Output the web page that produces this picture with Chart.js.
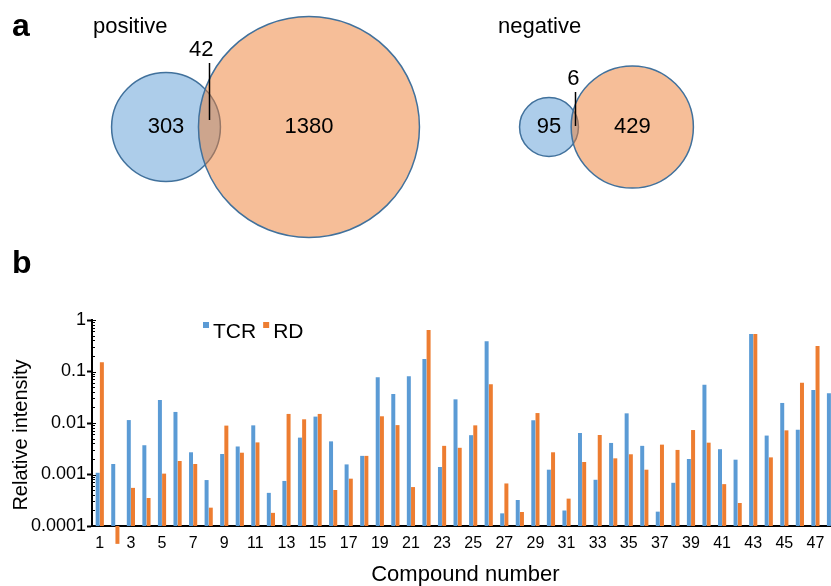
<!DOCTYPE html>
<html>
<head>
<meta charset="utf-8">
<script src="https://cdn.jsdelivr.net/npm/chart.js@4.4.0/dist/chart.umd.min.js"></script>
<style>
  html, body { margin: 0; padding: 0; background: #fff; overflow: hidden; }
  body { width: 831px; height: 586px; position: relative; }
  #vennBox { position: absolute; left: 0; top: 0; }
  #barBox { position: absolute; left: 0; top: 290px; }
</style>
</head>
<body>
<div id="vennBox"><canvas id="vennChart" width="831" height="290"></canvas></div>
<div id="barBox"><canvas id="barChart" width="839" height="296"></canvas></div>
<script>
// ---- panel a: Venn counts ----
const vennGroups = ['positive', 'negative'];
const tcrOnly = [303, 95];
const rdOnly = [1380, 429];
const shared = [42, 6];

// ---- panel b: relative intensity per compound ----
const compounds = ['1', '2', '3', '4', '5', '6', '7', '8', '9', '10', '11', '12',
  '13', '14', '15', '16', '17', '18', '19', '20', '21', '22', '23', '24',
  '25', '26', '27', '28', '29', '30', '31', '32', '33', '34', '35', '36',
  '37', '38', '39', '40', '41', '42', '43', '44', '45', '46', '47', '48'];
const tcrValues = [0.00108, 0.0016, 0.0114, 0.0037, 0.028, 0.0164, 0.0027, 0.00078,
  0.0025, 0.0035, 0.009, 0.00044, 0.00075, 0.0052, 0.0133, 0.0044,
  0.00157, 0.0023, 0.077, 0.0366, 0.081, 0.175, 0.0014, 0.0288,
  0.0058, 0.386, 0.000176, 0.00032, 0.0113, 0.00124, 0.0002, 0.0064,
  0.00079, 0.0041, 0.0154, 0.0036, 0.00019, 0.00069, 0.002, 0.0555,
  0.0031, 0.00194, 0.535, 0.0057, 0.0245, 0.0074, 0.0437, 0.0378];
const rdValues = [0.151, 0.000045, 0.00055, 0.00035, 0.00104, 0.00183, 0.0016, 0.000227,
  0.0089, 0.00265, 0.0042, 0.00018, 0.015, 0.0118, 0.015, 0.0005,
  0.00083, 0.0023, 0.0135, 0.0091, 0.00057, 0.64, 0.0036, 0.0033,
  0.009, 0.0564, 0.00067, 0.000187, 0.0156, 0.0027, 0.00034, 0.00175,
  0.00585, 0.00206, 0.00247, 0.00124, 0.0038, 0.003, 0.0073, 0.00415,
  0.00065, 0.00028, 0.535, 0.00215, 0.0072, 0.0607, 0.313, null];
const yTickValues = [0.0001, 0.001, 0.01, 0.1, 1];
const yTickLabels = ['0.0001', '0.001', '0.01', '0.1', '1'];

const FONT = "'Liberation Sans', Arial, sans-serif";
const BLUE = '#5b9bd5';
const ORANGE = '#ed7d31';

// Venn layout: circle area proportional to set size
const K = 2.93;
const vennAnchorX = [166, 549];
const vennTitleX = [93, 498];
const vennCenterY = 127;
const leaderTop = [63, 92];
const leaderBottom = [120, 126];

function lensArea(r1, r2, d) {
  if (d >= r1 + r2) return 0;
  if (d <= Math.abs(r1 - r2)) return Math.PI * Math.min(r1, r2) ** 2;
  const a1 = (d * d + r1 * r1 - r2 * r2) / (2 * d);
  const a2 = d - a1;
  const seg = (r, a) => r * r * Math.acos(a / r) - a * Math.sqrt(r * r - a * a);
  return seg(r1, a1) + seg(r2, a2);
}

function centreDistance(r1, r2, target) {
  let lo = Math.abs(r1 - r2), hi = r1 + r2;
  for (let i = 0; i < 60; i++) {
    const mid = (lo + hi) / 2;
    if (lensArea(r1, r2, mid) > target) lo = mid; else hi = mid;
  }
  return (lo + hi) / 2;
}

const tcrCircles = [];
const rdCircles = [];
vennGroups.forEach((g, i) => {
  const r1 = K * Math.sqrt(tcrOnly[i] + shared[i]);
  const r2 = K * Math.sqrt(rdOnly[i] + shared[i]);
  const d = centreDistance(r1, r2, Math.PI * K * K * shared[i]);
  tcrCircles.push({ x: vennAnchorX[i], y: vennCenterY, r: r1 });
  rdCircles.push({ x: vennAnchorX[i] + d, y: vennCenterY, r: r2 });
});

const vennText = {
  id: 'vennText',
  afterDatasetsDraw(chart) {
    const ctx = chart.ctx;
    const rdMeta = chart.getDatasetMeta(0).data;
    const tcrMeta = chart.getDatasetMeta(1).data;
    ctx.save();
    ctx.fillStyle = '#000';
    ctx.strokeStyle = '#000';

    // panel letters
    ctx.font = 'bold 32px ' + FONT;
    ctx.textAlign = 'left';
    ctx.textBaseline = 'alphabetic';
    ctx.fillText('a', 12, 36);
    ctx.fillText('b', 12, 273);

    vennGroups.forEach((g, i) => {
      const b = tcrMeta[i], o = rdMeta[i];
      const r1 = tcrCircles[i].r, r2 = rdCircles[i].r;

      ctx.font = '22px ' + FONT;
      ctx.textAlign = 'left';
      ctx.textBaseline = 'alphabetic';
      ctx.fillText(g, vennTitleX[i], 33);

      ctx.textAlign = 'center';
      ctx.textBaseline = 'middle';
      ctx.fillText(String(tcrOnly[i]), b.x, b.y);
      ctx.fillText(String(rdOnly[i]), o.x, o.y);

      const lx = Math.round((b.x + r1 + o.x - r2) / 2) + 0.5;
      ctx.lineWidth = 1.5;
      ctx.beginPath();
      ctx.moveTo(lx, leaderTop[i]);
      ctx.lineTo(lx, leaderBottom[i]);
      ctx.stroke();

      ctx.textAlign = 'right';
      ctx.textBaseline = 'alphabetic';
      ctx.fillText(String(shared[i]), lx + 4, leaderTop[i] - 7);
    });
    ctx.restore();
  }
};

new Chart(document.getElementById('vennChart'), {
  type: 'bubble',
  data: {
    datasets: [
      { label: 'RD', data: rdCircles, backgroundColor: 'rgba(237,125,49,0.5)',
        borderColor: '#41719c', borderWidth: 1.5, order: 1, clip: false },
      { label: 'TCR', data: tcrCircles, backgroundColor: 'rgba(91,155,213,0.5)',
        borderColor: '#41719c', borderWidth: 1.5, order: 2, clip: false }
    ]
  },
  options: {
    responsive: false,
    animation: false,
    events: [],
    layout: { padding: 0, autoPadding: false },
    plugins: { legend: { display: false }, tooltip: { enabled: false } },
    scales: {
      x: { type: 'linear', min: 0, max: 831, display: false },
      y: { type: 'linear', min: 0, max: 290, reverse: true, display: false }
    }
  },
  plugins: [vennText]
});

// extra marks on the bar chart: minor log ticks, y title, inline legend
const barExtras = {
  id: 'barExtras',
  afterDraw(chart) {
    const { ctx, chartArea, scales: { y } } = chart;
    ctx.save();
    ctx.strokeStyle = '#000';
    ctx.lineWidth = 1;
    for (let e = -4; e <= 0; e++) {
      for (let m = 1; m < 10; m++) {
        const v = m * Math.pow(10, e);
        if (v > 1) break;
        const py = Math.round(y.getPixelForValue(v)) + 0.5;
        ctx.beginPath();
        ctx.moveTo(chartArea.left, py);
        ctx.lineTo(chartArea.left + (m === 1 ? 4 : 3), py);
        ctx.stroke();
      }
    }

    ctx.fillStyle = '#000';
    ctx.font = '20px ' + FONT;
    ctx.textAlign = 'center';
    ctx.textBaseline = 'middle';
    ctx.translate(21, 145);
    ctx.rotate(-Math.PI / 2);
    ctx.fillText('Relative intensity', 0, 0);
    ctx.setTransform(1, 0, 0, 1, 0, 0);

    // legend
    ctx.font = '21px ' + FONT;
    ctx.textAlign = 'left';
    ctx.textBaseline = 'alphabetic';
    let x = chartArea.left + 111;
    chart.data.datasets.forEach(ds => {
      ctx.fillStyle = ds.backgroundColor;
      ctx.fillRect(x, 32, 6, 6);
      ctx.fillStyle = '#000';
      ctx.fillText(ds.label, x + 10, 48);
      x += 10 + ctx.measureText(ds.label).width + 7;
    });
    ctx.restore();
  }
};

new Chart(document.getElementById('barChart'), {
  type: 'bar',
  data: {
    labels: compounds,
    datasets: [
      { label: 'TCR', data: tcrValues, backgroundColor: BLUE, clip: false },
      { label: 'RD', data: rdValues, backgroundColor: ORANGE, clip: false }
    ]
  },
  options: {
    responsive: false,
    animation: false,
    events: [],
    layout: { padding: { top: 30, right: 0, left: 0, bottom: 0 } },
    datasets: { bar: { categoryPercentage: 0.54, barPercentage: 0.95 } },
    plugins: { legend: { display: false }, tooltip: { enabled: false } },
    scales: {
      x: {
        grid: { display: false, drawTicks: false },
        border: { display: true, color: '#000', width: 2 },
        ticks: {
          autoSkip: false, maxRotation: 0, minRotation: 0, padding: 8, color: '#000',
          font: { family: FONT, size: 16 },
          callback: (v, i) => (i % 2 === 0 ? compounds[i] : '')
        },
        title: {
          display: true, text: 'Compound number', color: '#000',
          font: { family: FONT, size: 22, lineHeight: 1 }, padding: { top: 0, bottom: 0 }
        },
        afterFit: s => { s.height = 60; }
      },
      y: {
        type: 'logarithmic',
        min: 0.0001,
        max: 1,
        afterBuildTicks: s => { s.ticks = yTickValues.map(v => ({ value: v, major: true })); },
        ticks: {
          autoSkip: false, padding: 1, color: '#000',
          font: { family: FONT, size: 18 },
          callback: v => {
            const i = yTickValues.indexOf(v);
            return i >= 0 ? yTickLabels[i] : '';
          }
        },
        grid: { drawOnChartArea: false, drawTicks: true, tickLength: 5, tickColor: '#000', tickWidth: 2 },
        border: { display: true, color: '#000', width: 2 },
        afterFit: s => { s.width = 92; }
      }
    }
  },
  plugins: [barExtras]
});
</script>
</body>
</html>
